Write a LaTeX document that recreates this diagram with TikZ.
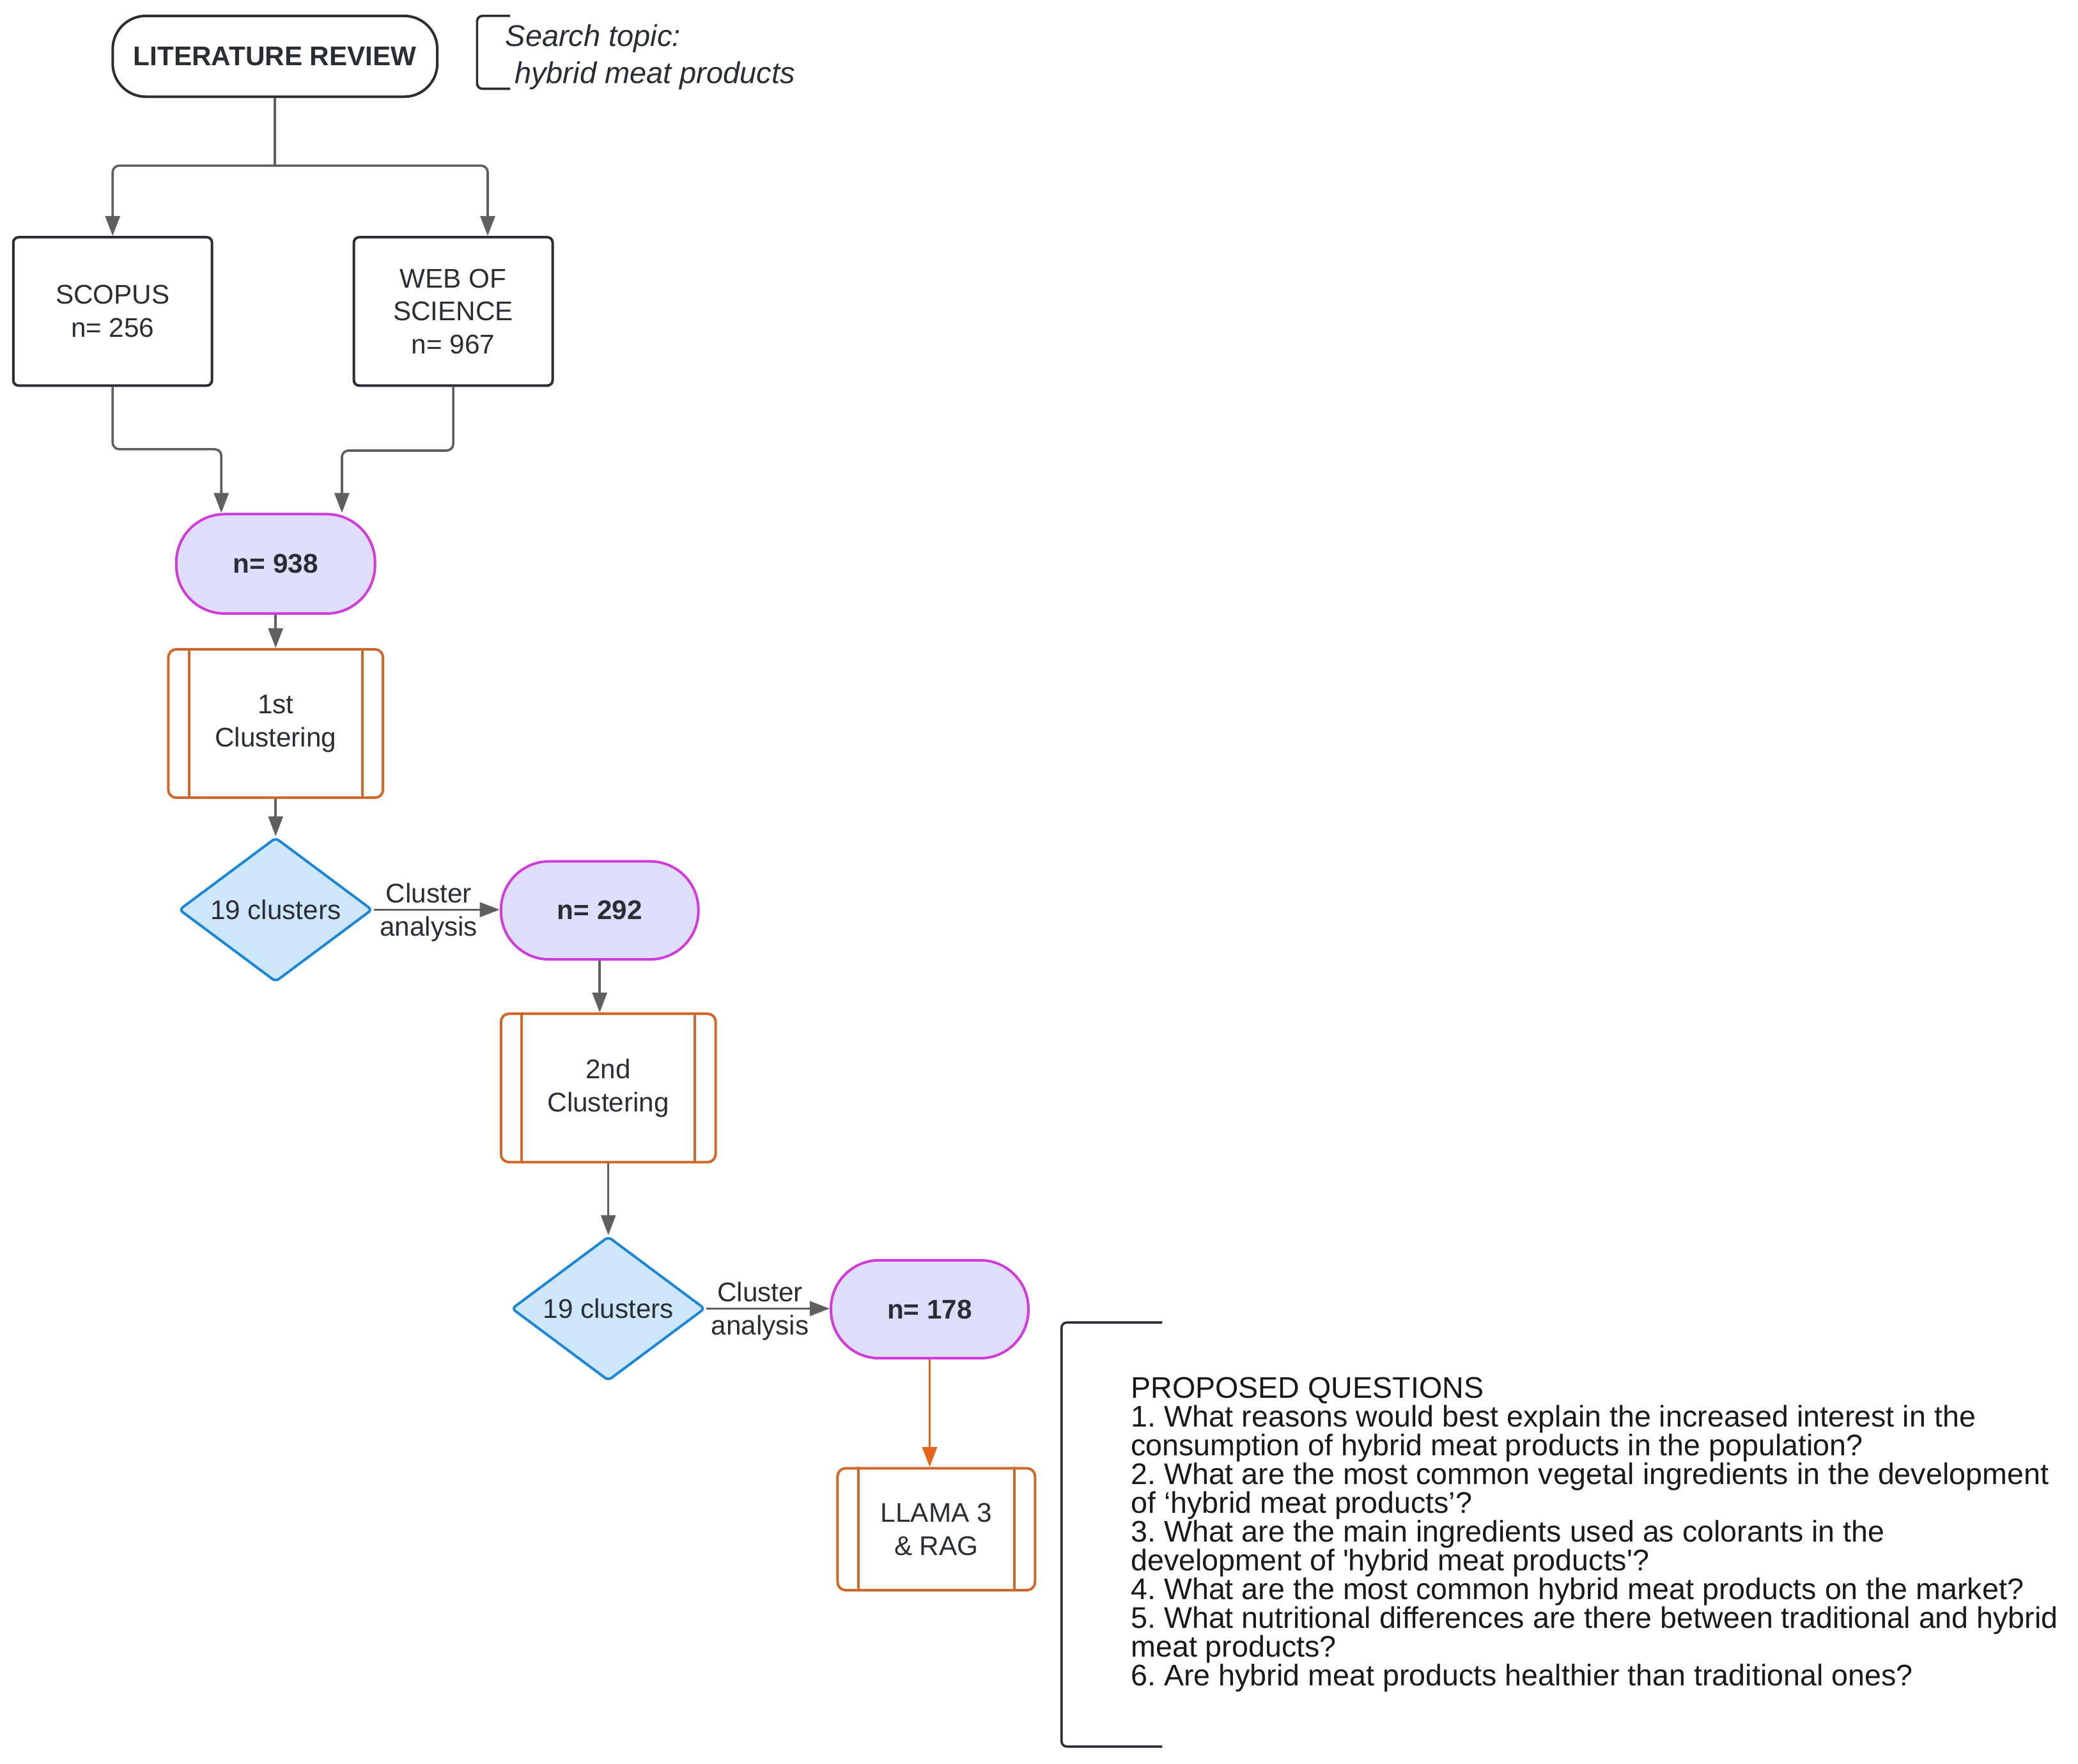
\documentclass[tikz,border=0pt]{standalone}
\usepackage{fontspec}
\setmainfont{Liberation Sans}
\usetikzlibrary{shapes.geometric,arrows.meta}
\definecolor{ink}{HTML}{2A2D33}
\definecolor{wire}{HTML}{5F5F5F}
\definecolor{pillfill}{HTML}{DEDDFB}
\definecolor{pilldraw}{HTML}{D03CDA}
\definecolor{procdraw}{HTML}{D0682A}
\definecolor{diafill}{HTML}{CDE6FA}
\definecolor{diadraw}{HTML}{1B87D5}
\definecolor{llamawire}{HTML}{E5631C}
\newcommand{\qsfont}{\fontsize{12.8}{12.35}\selectfont\lineskiplimit=-10pt\relax\frenchspacing}

\begin{document}
\begin{tikzpicture}[x=0.02cm, y=-0.02cm, text=ink,
    font=\fontsize{11.6}{14.2}\selectfont,
    conn/.style = {draw=wire, line width=1pt, rounded corners=0.1cm},
    arr/.style = {conn, -{Triangle[length=0.3cm,width=0.22cm]}},
    src/.style = {draw=ink, line width=1.1pt, rounded corners=0.08cm, minimum width=3cm, minimum height=2.24cm, align=center},
    pill/.style = {draw=pilldraw, fill=pillfill, line width=1.1pt, rounded corners=0.73cm, minimum width=3cm, minimum height=1.5cm, font=\fontsize{11.6}{14.2}\selectfont\bfseries},
    proc/.style = {draw=procdraw, line width=1.1pt, rounded corners=0.12cm, minimum width=3.24cm, minimum height=2.24cm, align=center},
    dia/.style = {diamond, aspect=1.34, draw=diadraw, fill=diafill, line width=1.1pt, rounded corners=0.06cm, inner sep=0pt, minimum width=2.92cm, minimum height=2.18cm},
    lbl/.style = {align=center, xshift=-0.12cm, yshift=-0.04cm}]
        \useasboundingbox (0,0) rectangle (1568,1331);

        \node[draw=ink, line width=1.1pt, rounded corners=0.5cm, minimum width=4.9cm, minimum height=1.22cm, font=\fontsize{11.6}{14.2}\selectfont\bfseries] (lit) at (207.5,42.5) {LITERATURE REVIEW};
        \node[anchor=north west, align=left, inner sep=0pt, font=\fontsize{12.9}{15.9}\selectfont\itshape] (topic) at (381,18) {Search topic:\\\hspace{0.14cm}hybrid meat products};
        \draw[draw=ink, line width=1pt, rounded corners=0.08cm] (385,12) -- (360,12) -- (360,67) -- (385,67);

        \node[src] (scopus) at (85,235) {SCOPUS\\n= 256};
        \node[src] (wos) at (342,235) {WEB OF\\SCIENCE\\n= 967};
        \node[pill] (n938) at (208,425.5) {n= 938};
        \node[proc] (c1) at (208,546) {1st\\Clustering};
        \node[dia] (d1) at (208,686.5) {19 clusters};
        \node[pill, minimum width=2.98cm, minimum height=1.48cm] (n292) at (452.5,687) {n= 292};
        \node[proc] (c2) at (459,821) {2nd\\Clustering};
        \node[dia] (d2) at (459,987.5) {19 clusters};
        \node[pill, minimum width=2.98cm, minimum height=1.48cm] (n178) at (701.5,988) {n= 178};
        \node[proc, minimum width=2.98cm, minimum height=1.84cm] (llama) at (706.5,1154) {LLAMA 3\\\& RAG};
        \foreach \p in {c1,c2,llama}{
            \draw[draw=procdraw, line width=1.1pt] ([xshift=0.33cm]\p.north west) -- ([xshift=0.33cm]\p.south west);
            \draw[draw=procdraw, line width=1.1pt] ([xshift=-0.33cm]\p.north east) -- ([xshift=-0.33cm]\p.south east);
        }

        % connectors
        \coordinate (split) at (207.5,125);
        \coordinate (m1) at (167,339);
        \coordinate (m2) at (258,340);
        \draw[conn] (lit.south) -- (split);
        \draw[arr] (split) -| (scopus.north);
        \draw[arr] (split) -| ([xshift=0.52cm]wos.north);
        \draw[arr] (scopus.south) |- (m1) -- (m1 |- n938.north);
        \draw[arr] (wos.south) |- (m2) -- (m2 |- n938.north);
        \draw[arr] (n938) -- (c1);
        \draw[arr] (c1) -- (d1);
        \draw[arr] (d1.east) -- node[lbl] {Cluster\\analysis} (d1.east -| n292.west);
        \draw[arr] (n292.south) -- (n292.south |- c2.north);
        \draw[arr] (c2) -- (d2);
        \draw[arr] (d2.east) -- node[lbl] {Cluster\\analysis} (d2.east -| n178.west);
        \draw[arr, draw=llamawire] (n178.south) -- (n178.south |- llama.north);

        % questions
        \draw[draw=ink, line width=1pt, rounded corners=0.08cm] (877,998) -- (801,998) -- (801,1318) -- (877,1318);
        \node[anchor=north west, align=left, inner sep=0pt, text=black!90, font=\qsfont] (qs) at (853,1039) {PROPOSED QUESTIONS\\
            1. What reasons would best explain the increased interest in the\\
            consumption of hybrid meat products in the population?\\
            2. What are the most common vegetal ingredients in the development\\
            of ‘hybrid meat products’?\\
            3. What are the main ingredients used as colorants in the\\
            development of \textquotesingle hybrid meat products\textquotesingle ?\\
            4. What are the most common hybrid meat products on the market?\\
            5. What nutritional differences are there between traditional and hybrid\\
            meat products?\\
            6. Are hybrid meat products healthier than traditional ones?};
    \end{tikzpicture}
\end{document}
